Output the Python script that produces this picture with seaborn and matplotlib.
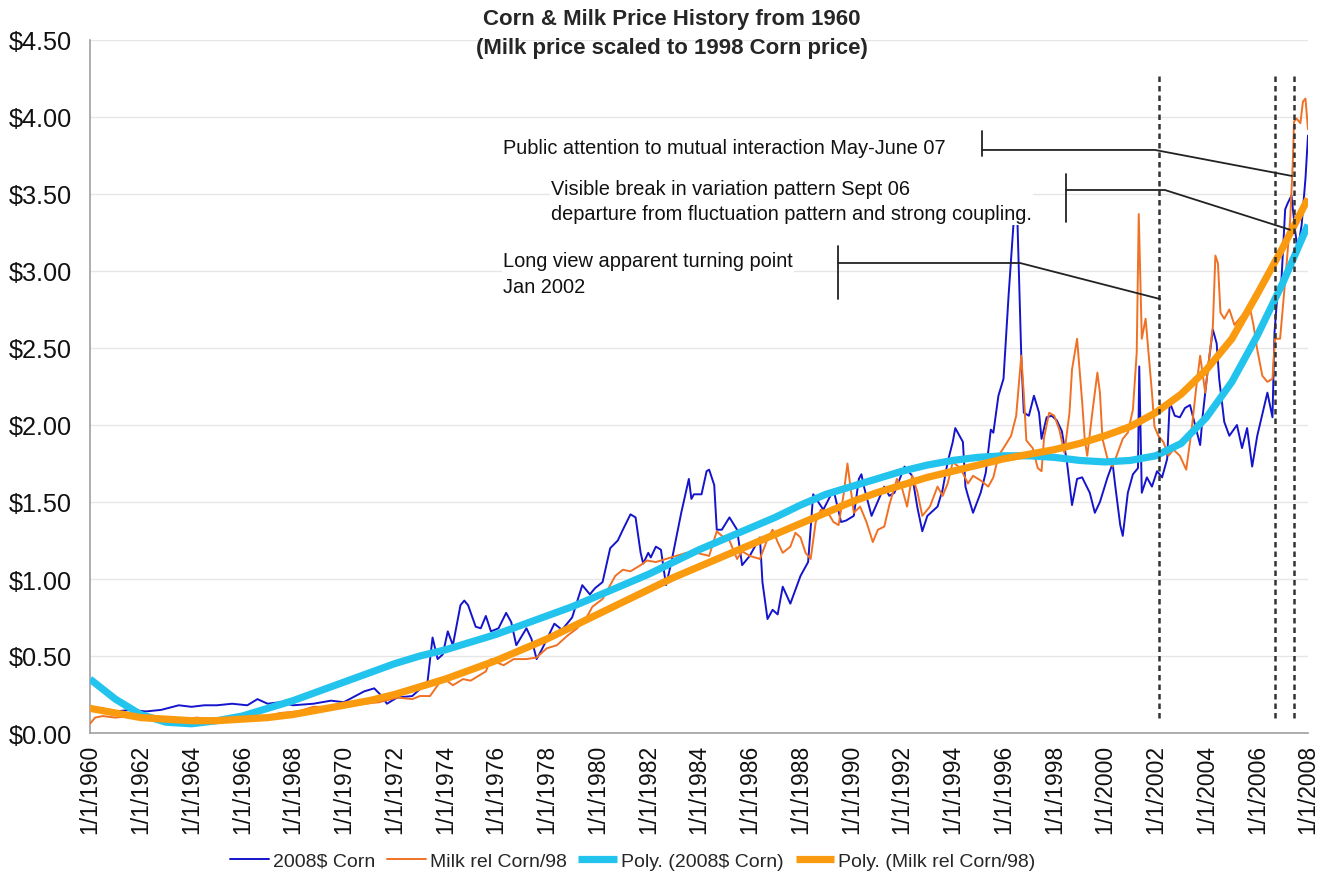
import numpy as np
import pandas as pd
import matplotlib
matplotlib.use("Agg")
import matplotlib.pyplot as plt
import seaborn as sns

# ---------------- data ----------------
corn_year = [1960.0, 1960.5, 1961.0, 1961.6, 1962.2, 1962.8, 1963.5, 1964.0, 1964.5, 1965.0,
             1965.6, 1966.2, 1966.6, 1967.0, 1967.5, 1968.0, 1968.8, 1969.5, 1970.0, 1970.8,
             1971.2, 1971.5, 1971.7, 1972.1, 1972.7, 1972.9, 1973.3, 1973.5, 1973.7, 1973.9,
             1974.1, 1974.3, 1974.6, 1974.75, 1974.9, 1975.2, 1975.4, 1975.6, 1975.8, 1976.1,
             1976.4, 1976.6, 1976.8, 1977.2, 1977.4, 1977.6, 1977.8, 1978.3, 1978.6, 1979.0,
             1979.4, 1979.7, 1979.9, 1980.2, 1980.5, 1980.8, 1981.0, 1981.3, 1981.5, 1981.7,
             1981.8, 1982.0, 1982.1, 1982.3, 1982.5, 1982.7, 1982.9, 1983.3, 1983.6, 1983.7,
             1983.8, 1984.1, 1984.3, 1984.4, 1984.6, 1984.7, 1984.9, 1985.2, 1985.5, 1985.7,
             1986.0, 1986.4, 1986.5, 1986.7, 1986.9, 1987.1, 1987.3, 1987.6, 1988.0, 1988.3,
             1988.5, 1988.7, 1988.9, 1989.3, 1989.6, 1989.8, 1990.1, 1990.3, 1990.4, 1990.5,
             1990.8, 1991.3, 1991.5, 1991.7, 1992.1, 1992.4, 1992.6, 1992.8, 1993.0, 1993.4,
             1993.6, 1993.8, 1994.0, 1994.1, 1994.4, 1994.5, 1994.6, 1994.8, 1995.1, 1995.3,
             1995.5, 1995.6, 1995.8, 1996.0, 1996.2, 1996.4, 1996.55, 1996.7, 1996.8, 1997.0,
             1997.2, 1997.4, 1997.5, 1997.7, 1997.9, 1998.1, 1998.3, 1998.5, 1998.7, 1998.9,
             1999.1, 1999.4, 1999.6, 1999.8, 2000.1, 2000.3, 2000.4, 2000.6, 2000.7, 2000.9,
             2001.1, 2001.3, 2001.35, 2001.45, 2001.65, 2001.85, 2002.05, 2002.25, 2002.45, 2002.55,
             2002.75, 2002.95, 2003.15, 2003.35, 2003.55, 2003.75, 2003.85, 2004.05, 2004.25, 2004.4,
             2004.5, 2004.7, 2004.9, 2005.2, 2005.4, 2005.6, 2005.8, 2006.0, 2006.2, 2006.4,
             2006.6, 2006.68, 2006.8, 2006.95, 2007.1, 2007.2, 2007.35, 2007.5, 2007.6, 2007.75,
             2007.9, 2008.0]
corn_price = [0.15, 0.16, 0.14, 0.15, 0.14, 0.15, 0.18, 0.17, 0.18, 0.18,
              0.19, 0.18, 0.22, 0.19, 0.20, 0.18, 0.19, 0.21, 0.20, 0.27,
              0.29, 0.24, 0.19, 0.23, 0.24, 0.27, 0.33, 0.62, 0.48, 0.51,
              0.66, 0.57, 0.83, 0.86, 0.83, 0.69, 0.68, 0.76, 0.66, 0.68,
              0.78, 0.72, 0.57, 0.68, 0.61, 0.48, 0.54, 0.71, 0.67, 0.75,
              0.96, 0.90, 0.94, 0.98, 1.20, 1.25, 1.32, 1.42, 1.40, 1.17,
              1.10, 1.17, 1.14, 1.21, 1.19, 0.96, 1.10, 1.43, 1.65, 1.52,
              1.55, 1.55, 1.70, 1.71, 1.61, 1.32, 1.32, 1.40, 1.32, 1.09,
              1.15, 1.27, 0.98, 0.74, 0.80, 0.77, 0.95, 0.84, 1.02, 1.11,
              1.55, 1.50, 1.45, 1.58, 1.37, 1.38, 1.41, 1.65, 1.68, 1.60,
              1.41, 1.60, 1.54, 1.56, 1.73, 1.67, 1.47, 1.31, 1.41, 1.47,
              1.58, 1.76, 1.89, 1.98, 1.89, 1.60, 1.54, 1.43, 1.56, 1.69,
              1.97, 1.95, 2.19, 2.30, 2.84, 3.32, 3.32, 2.45, 2.08, 2.06,
              2.19, 2.08, 1.91, 2.05, 2.06, 2.03, 1.96, 1.76, 1.48, 1.65,
              1.66, 1.56, 1.43, 1.50, 1.66, 1.75, 1.61, 1.35, 1.28, 1.56,
              1.68, 1.72, 2.38, 1.56, 1.66, 1.60, 1.70, 1.66, 1.78, 2.15,
              2.06, 2.05, 2.11, 2.13, 2.00, 1.87, 2.06, 2.36, 2.62, 2.53,
              2.30, 2.02, 1.93, 2.00, 1.85, 1.98, 1.73, 1.93, 2.07, 2.21,
              2.05, 2.60, 2.86, 2.93, 3.40, 3.44, 3.49, 3.25, 3.14, 3.30,
              3.60, 3.88]

milk_year = [1960.0, 1960.2, 1960.5, 1961.0, 1961.6, 1962.2, 1962.8, 1963.5, 1964.2, 1964.8,
             1965.5, 1966.2, 1967.0, 1967.5, 1968.2, 1968.8, 1969.5, 1970.1, 1970.8, 1971.4,
             1972.1, 1972.7, 1973.0, 1973.4, 1973.7, 1973.9, 1974.3, 1974.7, 1975.0, 1975.2,
             1975.6, 1975.8, 1976.0, 1976.3, 1976.7, 1977.2, 1977.6, 1978.0, 1978.4, 1978.8,
             1979.2, 1979.6, 1979.8, 1980.2, 1980.7, 1981.0, 1981.3, 1981.7, 1981.95, 1982.3,
             1982.7, 1983.1, 1983.5, 1983.9, 1984.4, 1984.7, 1984.9, 1985.2, 1985.5, 1985.7,
             1986.0, 1986.4, 1986.7, 1986.9, 1987.1, 1987.3, 1987.6, 1987.8, 1988.0, 1988.2,
             1988.4, 1988.6, 1988.8, 1989.05, 1989.3, 1989.5, 1989.7, 1989.85, 1990.1, 1990.35,
             1990.6, 1990.85, 1991.05, 1991.3, 1991.5, 1991.8, 1992.0, 1992.2, 1992.4, 1992.6,
             1992.8, 1993.1, 1993.4, 1993.6, 1993.8, 1994.0, 1994.3, 1994.6, 1994.8, 1995.1,
             1995.4, 1995.6, 1995.8, 1996.0, 1996.3, 1996.5, 1996.7, 1996.8, 1996.9, 1997.15,
             1997.35, 1997.5, 1997.6, 1997.8, 1998.0, 1998.2, 1998.4, 1998.6, 1998.7, 1998.9,
             1999.1, 1999.2, 1999.3, 1999.5, 1999.7, 1999.8, 1999.9, 2000.1, 2000.3, 2000.5,
             2000.7, 2000.9, 2001.1, 2001.25, 2001.33, 2001.45, 2001.6, 2001.85, 2001.95, 2002.1,
             2002.3, 2002.5, 2002.7, 2002.95, 2003.2, 2003.4, 2003.6, 2003.75, 2003.95, 2004.1,
             2004.25, 2004.35, 2004.45, 2004.55, 2004.7, 2004.9, 2005.1, 2005.3, 2005.5, 2005.7,
             2005.85, 2006.0, 2006.2, 2006.4, 2006.6, 2006.7, 2006.9, 2007.15, 2007.3, 2007.4,
             2007.45, 2007.55, 2007.7, 2007.8, 2007.9, 2008.0]
milk_price = [0.06, 0.10, 0.11, 0.10, 0.11, 0.09, 0.10, 0.08, 0.10, 0.09,
              0.10, 0.09, 0.11, 0.13, 0.14, 0.17, 0.17, 0.18, 0.19, 0.20,
              0.23, 0.22, 0.24, 0.24, 0.31, 0.36, 0.31, 0.35, 0.34, 0.36,
              0.40, 0.48, 0.46, 0.44, 0.48, 0.48, 0.49, 0.55, 0.57, 0.63,
              0.68, 0.76, 0.82, 0.87, 1.02, 1.06, 1.05, 1.09, 1.12, 1.11,
              1.13, 1.15, 1.17, 1.17, 1.15, 1.31, 1.28, 1.25, 1.13, 1.18,
              1.15, 1.13, 1.26, 1.32, 1.24, 1.17, 1.21, 1.30, 1.27, 1.17,
              1.13, 1.37, 1.45, 1.44, 1.37, 1.35, 1.55, 1.75, 1.43, 1.47,
              1.37, 1.24, 1.32, 1.34, 1.48, 1.65, 1.59, 1.47, 1.67, 1.57,
              1.41, 1.47, 1.60, 1.54, 1.62, 1.76, 1.72, 1.62, 1.67, 1.64,
              1.60, 1.66, 1.80, 1.85, 1.93, 2.06, 2.45, 2.20, 1.90, 1.85,
              1.72, 1.70, 1.92, 2.08, 2.06, 1.97, 1.82, 2.08, 2.36, 2.56,
              2.15, 1.91, 1.80, 2.08, 2.34, 2.21, 1.91, 1.78, 1.73, 1.82,
              1.91, 1.95, 2.10, 2.47, 3.37, 2.56, 2.69, 2.21, 1.99, 1.93,
              1.89, 1.80, 1.84, 1.80, 1.71, 1.95, 2.25, 2.45, 2.21, 2.43,
              2.64, 3.10, 3.05, 2.73, 2.69, 2.75, 2.65, 2.69, 2.73, 2.77,
              2.65, 2.49, 2.32, 2.28, 2.30, 2.56, 2.56, 3.03, 3.34, 3.70,
              3.97, 3.99, 3.96, 4.10, 4.12, 3.92]

trend_year = list(range(1960, 2009))
corn_trend = [0.35, 0.22, 0.12, 0.07, 0.06, 0.08, 0.11, 0.16, 0.21, 0.27,
              0.33, 0.39, 0.45, 0.50, 0.54, 0.59, 0.64, 0.70, 0.76, 0.82,
              0.89, 0.96, 1.03, 1.11, 1.19, 1.26, 1.33, 1.40, 1.48, 1.55,
              1.60, 1.65, 1.70, 1.74, 1.77, 1.79, 1.80, 1.80, 1.79, 1.77,
              1.76, 1.77, 1.80, 1.88, 2.05, 2.28, 2.58, 2.92, 3.30]
milk_trend = [0.16, 0.13, 0.10, 0.09, 0.08, 0.08, 0.09, 0.10, 0.12, 0.15,
              0.18, 0.21, 0.25, 0.30, 0.35, 0.41, 0.47, 0.54, 0.61, 0.69,
              0.77, 0.85, 0.93, 1.01, 1.08, 1.15, 1.22, 1.29, 1.36, 1.43,
              1.50, 1.56, 1.61, 1.66, 1.70, 1.74, 1.78, 1.81, 1.84, 1.88,
              1.93, 1.99, 2.08, 2.20, 2.36, 2.56, 2.85, 3.15, 3.47]

series_names = ["2008$ Corn", "Milk rel Corn/98", "Poly. (2008$ Corn)", "Poly. (Milk rel Corn/98)"]
tick_years = list(range(1960, 2009, 2))
tick_labels = [f"1/1/{y}" for y in tick_years]
y_ticks = [0.0, 0.5, 1.0, 1.5, 2.0, 2.5, 3.0, 3.5, 4.0, 4.5]
y_labels = ["$0.00", "$0.50", "$1.00", "$1.50", "$2.00", "$2.50", "$3.00", "$3.50", "$4.00", "$4.50"]

event_years = [2002.13, 2006.70, 2007.45]
annotations = [
    "Public attention to mutual interaction May-June 07",
    "Visible break in variation pattern Sept 06\ndeparture from fluctuation pattern and strong coupling.",
    "Long view apparent turning point\nJan 2002",
]

# ---------------- figure ----------------
sns.set_theme(style="white")
plt.rcParams["font.family"] = ["Liberation Sans", "DejaVu Sans"]

fig = plt.figure(figsize=(13.22, 8.78), dpi=100)
ax = fig.add_axes([90 / 1322, 1 - 734 / 878, (1308 - 90) / 1322, (734 - 41) / 878])

corn_df = pd.DataFrame({"year": corn_year, "price": corn_price})
milk_df = pd.DataFrame({"year": milk_year, "price": milk_price})
trend_df = pd.DataFrame({"year": trend_year, "corn": corn_trend, "milk": milk_trend})

sns.lineplot(data=corn_df, x="year", y="price", ax=ax, color="#1414CC", lw=1.4,
             label=series_names[0], estimator=None, sort=False, zorder=3)
sns.lineplot(data=milk_df, x="year", y="price", ax=ax, color="#F07124", lw=1.4,
             label=series_names[1], estimator=None, sort=False, zorder=3)
sns.lineplot(data=trend_df, x="year", y="corn", ax=ax, color="#22C4EE", lw=5.2,
             label=series_names[2], estimator=None, sort=False, zorder=4,
             solid_capstyle="butt")
sns.lineplot(data=trend_df, x="year", y="milk", ax=ax, color="#FA9A0E", lw=5.2,
             label=series_names[3], estimator=None, sort=False, zorder=4,
             solid_capstyle="butt")

# dashed event lines
for ev in event_years:
    ax.plot([ev, ev], [0.10, 4.28], color="#333333", lw=1.8,
            linestyle=(0, (2.2, 1.6)), zorder=6, clip_on=False)

# annotation leaders (tick, horizontal, diagonal)
leaders = [
    dict(tick_x=1995.15, tick_y=(3.75, 3.91), hy=3.786, hx_end=2001.97, tip=(2007.37, 3.617)),
    dict(tick_x=1998.46, tick_y=(3.32, 3.63), hy=3.526, hx_end=2002.36, tip=(2007.29, 3.268)),
    dict(tick_x=1989.48, tick_y=(2.82, 3.16), hy=3.052, hx_end=1996.65, tip=(2002.17, 2.818)),
]
for ld in leaders:
    ax.plot([ld["tick_x"], ld["tick_x"]], list(ld["tick_y"]), color="#222222", lw=1.3, zorder=7)
    ax.plot([ld["tick_x"], ld["hx_end"], ld["tip"][0]], [ld["hy"], ld["hy"], ld["tip"][1]],
            color="#222222", lw=1.3, zorder=7)

text_pos = [(1976.28, 3.80), (1978.17, 3.455), (1976.28, 2.985)]
for txt, (tx, ty) in zip(annotations, text_pos):
    ax.text(tx, ty, txt, fontsize=14.4, color="#111111", ha="left", va="center",
            linespacing=1.45, zorder=8,
            bbox=dict(facecolor="white", edgecolor="none", pad=1.0))

# axes styling
ax.set_xlim(1960, 2008)
ax.set_ylim(0, 4.5)
ax.set_xticks(tick_years)
ax.set_xticklabels(tick_labels, rotation=90, fontsize=16.5)
ax.set_yticks(y_ticks)
ax.set_yticklabels(y_labels, fontsize=18.2)
ax.set_xlabel("")
ax.set_ylabel("")
ax.yaxis.grid(True, color="#E6E6E6", lw=1.0)
ax.xaxis.grid(False)
ax.set_axisbelow(True)
for s in ["top", "right"]:
    ax.spines[s].set_visible(False)
for s in ["left", "bottom"]:
    ax.spines[s].set_color("#A0A0A0")
    ax.spines[s].set_linewidth(1.2)
ax.tick_params(axis="both", direction="out", length=6, width=1.0, color="#A0A0A0",
               labelcolor="#111111")
ax.tick_params(axis="y", pad=7)
ax.tick_params(axis="x", pad=2)

# legend at bottom
handles, labels = ax.get_legend_handles_labels()
ax.get_legend().remove()
leg = fig.legend(handles, labels, loc="center", bbox_to_anchor=(633 / 1322, 1 - 862 / 878),
                 ncol=4, frameon=False, fontsize=14, handlelength=2.0, handletextpad=0.2,
                 columnspacing=0.6)

fig.text(672 / 1322, 1 - 9 / 878,
         "Corn & Milk Price History from 1960\n(Milk price scaled to 1998 Corn price)",
         ha="center", va="top", fontsize=16, fontweight="bold", linespacing=1.5)

fig.savefig("out.png", dpi=100, facecolor="white")
